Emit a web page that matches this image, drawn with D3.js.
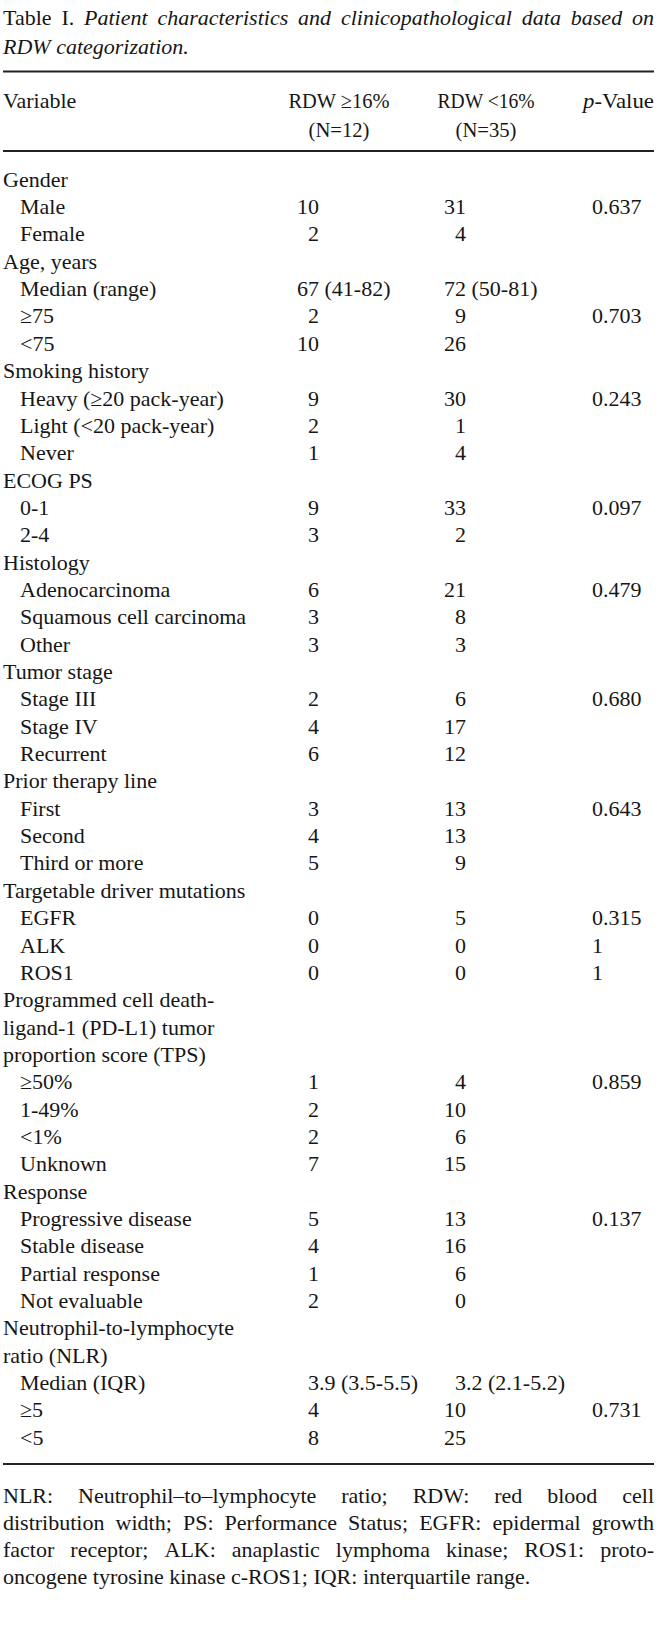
<!DOCTYPE html>
<html><head><meta charset="utf-8">
<script src="https://cdn.jsdelivr.net/npm/d3@7"></script>
<style>
body{margin:0;background:#fff}
text{font-family:"Liberation Serif","Times New Roman",serif;fill:#161616;white-space:pre}
</style>
</head><body><svg id="c"></svg>
<script>
// ---- data ----
const titleBold = ["Table", "I."];
const titleItalic1 = "Patient characteristics and clinicopathological data based on";
const titleItalic2 = "RDW categorization.";
const headerCols = ["Variable", "RDW ≥16%", "RDW <16%", "p-Value"];
const headerN = ["", "(N=12)", "(N=35)", ""];
const labels = ["Gender","Male","Female","Age, years","Median (range)","≥75","<75","Smoking history","Heavy (≥20 pack-year)","Light (<20 pack-year)","Never","ECOG PS","0-1","2-4","Histology","Adenocarcinoma","Squamous cell carcinoma","Other","Tumor stage","Stage III","Stage IV","Recurrent","Prior therapy line","First","Second","Third or more","Targetable driver mutations","EGFR","ALK","ROS1","Programmed cell death-","ligand-1 (PD-L1) tumor","proportion score (TPS)","≥50%","1-49%","<1%","Unknown","Response","Progressive disease","Stable disease","Partial response","Not evaluable","Neutrophil-to-lymphocyte","ratio (NLR)","Median (IQR)","≥5","<5"];
const indentLevel = [0,1,1,0,1,1,1,0,1,1,1,0,1,1,0,1,1,1,0,1,1,1,0,1,1,1,0,1,1,1,0,0,0,1,1,1,1,0,1,1,1,1,0,0,1,1,1];
const rdwHigh = ["","10","2","","67 (41-82)","2","10","","9","2","1","","9","3","","6","3","3","","2","4","6","","3","4","5","","0","0","0","","","","1","2","2","7","","5","4","1","2","","","3.9 (3.5-5.5)","4","8"];
const rdwLow = ["","31","4","","72 (50-81)","9","26","","30","1","4","","33","2","","21","8","3","","6","17","12","","13","13","9","","5","0","0","","","","4","10","6","15","","13","16","6","0","","","3.2 (2.1-5.2)","10","25"];
const pValues = ["","0.637","","","","0.703","","","0.243","","","","0.097","","","0.479","","","","0.680","","","","0.643","","","","0.315","1","1","","","","0.859","","","","","0.137","","","","","","","0.731",""];
const footLines = [
  "NLR: Neutrophil–to–lymphocyte ratio; RDW: red blood cell",
  "distribution width; PS: Performance Status; EGFR: epidermal growth",
  "factor receptor; ALK: anaplastic lymphoma kinase; ROS1: proto-",
  "oncogene tyrosine kinase c-ROS1; IQR: interquartile range."
];

// ---- layout ----
const W = 669, H = 1630, FS = 22, L = 3, R = 654;
const svg = d3.select("#c").attr("width", W).attr("height", H);
svg.append("rect").attr("width", W).attr("height", H).attr("fill", "#fff");
const meas = svg.append("text").attr("font-size", FS).attr("visibility", "hidden");
function ww(w, it) { meas.attr("font-style", it ? "italic" : "normal").text(w); return meas.node().getComputedTextLength(); }

function line(words, y, justify) {
  const widths = words.map(d => ww(d.t, d.it));
  const total = d3.sum(widths);
  const sp = ww("a b", false) - ww("ab", false);
  const gap = justify && words.length > 1 ? (R - L - total) / (words.length - 1) : sp;
  let x = L;
  const t = svg.append("text").attr("font-size", FS).attr("y", y);
  words.forEach((d, i) => {
    t.append("tspan").attr("x", x).attr("font-style", d.it ? "italic" : "normal").text(d.t);
    x += widths[i] + gap;
  });
}

// title
line(titleBold.map(t => ({t, it: false})).concat(titleItalic1.split(" ").map(t => ({t, it: true}))), 24.5, true);
line(titleItalic2.split(" ").map(t => ({t, it: true})), 53.5, false);

// rules
const rules = [71.5, 151, 1464];
svg.selectAll("line.rule").data(rules).enter().append("line")
  .attr("x1", L).attr("x2", R).attr("y1", d => d).attr("y2", d => d)
  .attr("stroke", "#222").attr("stroke-width", 2);

// columns
const colX = d3.scaleOrdinal().domain(["high", "low", "p"]).range([319, 466, 592]);
const headX = d3.scaleOrdinal().domain([0, 1, 2, 3]).range([L, 339, 486, R]);
const headAnchor = ["start", "middle", "middle", "end"];
const headW = [null, 101, 97, 71];
const nW = [null, 61, 61, null];

// header
headerCols.forEach((h, i) => {
  const t = svg.append("text").attr("font-size", FS).attr("x", headX(i)).attr("y", 108).attr("text-anchor", headAnchor[i]);
  if (headW[i]) t.attr("textLength", headW[i]).attr("lengthAdjust", "spacingAndGlyphs");
  if (i === 3) {
    t.append("tspan").attr("font-style", "italic").text("p");
    t.append("tspan").text("-Value");
  } else t.text(h);
});
headerN.forEach((h, i) => {
  if (!h) return;
  svg.append("text").attr("font-size", FS).attr("x", headX(i)).attr("y", 137).attr("text-anchor", "middle")
    .attr("textLength", nW[i]).attr("lengthAdjust", "spacingAndGlyphs").text(h);
});

// rows
const y = d3.scaleLinear().domain([0, labels.length - 1]).range([186.7, 186.7 + 46 * 27.35]);
const rows = svg.selectAll("g.row").data(labels).enter().append("g").attr("class", "row")
  .attr("transform", (d, i) => `translate(0,${y(i)})`);
rows.append("text").attr("font-size", FS).attr("x", (d, i) => L + indentLevel[i] * 17).text(d => d);

function valueCell(sel, arr, key) {
  sel.each(function(d, i) {
    const v = arr[i];
    if (!v) return;
    const m = v.match(/^(\d+)(.*)$/);
    const g = d3.select(this);
    g.append("text").attr("font-size", FS).attr("x", colX(key)).attr("text-anchor", "end").text(m[1]);
    if (m[2]) g.append("text").attr("font-size", FS).attr("x", colX(key)).attr("text-anchor", "start").text(m[2]);
  });
}
valueCell(rows, rdwHigh, "high");
valueCell(rows, rdwLow, "low");
rows.append("text").attr("font-size", FS).attr("x", colX("p")).text((d, i) => pValues[i]);

// footnote
const fy = d3.scaleLinear().domain([0, 3]).range([1503, 1503 + 3 * 27]);
footLines.forEach((s, i) => {
  line(s.split(" ").map(t => ({t, it: false})), fy(i), i < 3);
});
meas.remove();
</script>
</body></html>
